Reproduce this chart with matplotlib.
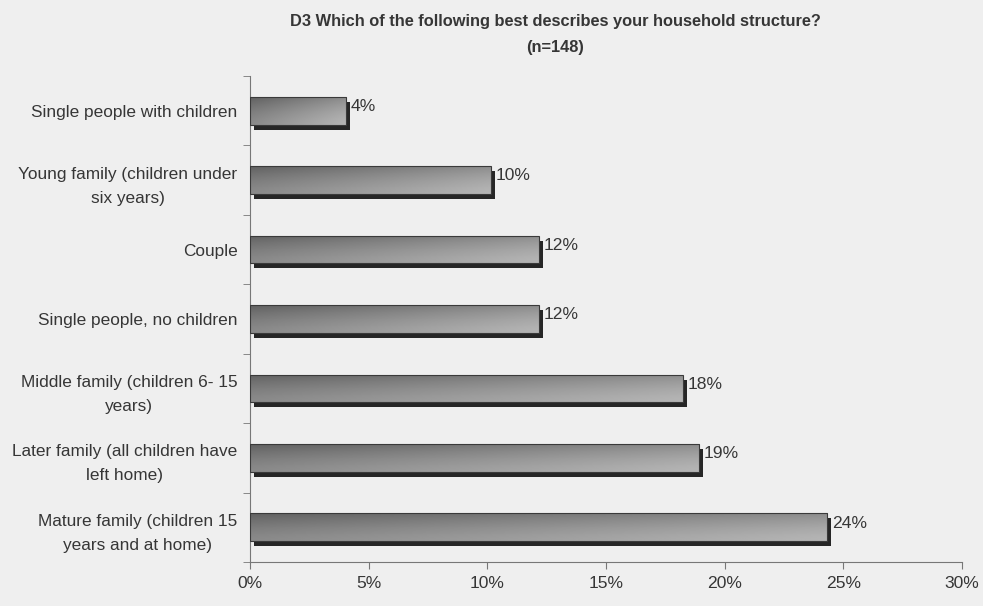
import numpy as np
import matplotlib.pyplot as plt
from matplotlib import transforms
from matplotlib.ticker import PercentFormatter

# D3 household structure, n=148
categories = [
    'Single people with children',
    'Young family (children under\nsix years)',
    'Couple',
    'Single people, no children',
    'Middle family (children 6- 15\nyears)',
    'Later family (all children have\nleft home)',
    'Mature family (children 15\nyears and at home)',
]
counts = [6, 15, 18, 18, 27, 28, 36]
n_total = 148
shares = [c / n_total * 100 for c in counts]
xticks = [0, 5, 10, 15, 20, 25, 30]

plt.rcParams['font.family'] = ['Liberation Sans', 'DejaVu Sans']
txt = '#363636'
bg = '#efefef'

fig = plt.figure(figsize=(9.83, 6.06), dpi=100, facecolor=bg)
ax = fig.add_axes([0.2543, 0.0726, 0.7243, 0.802])
ax.set_facecolor(bg)

ypos = np.arange(len(categories))
h = 0.40

# dark drop shadow, shifted a few pixels right/down
shadow_tr = transforms.offset_copy(ax.transData, fig=fig, x=4, y=-5, units='dots')
ax.barh(ypos, shares, height=h, color='#262626', transform=shadow_tr, zorder=2)

bars = ax.barh(ypos, shares, height=h, color='none', edgecolor='#3a3a3a', linewidth=0.8, zorder=4)

# shaded fill inside each bar: darker at the top and to the left
gx = np.linspace(0, 1, 256)
gy = np.linspace(0, 1, 32)  # 0 = bottom, 1 = top
grad = 0.54 + 0.17 * gx[None, :] - 0.16 * gy[:, None] ** 1.5
for bar, v, y in zip(bars, shares, ypos):
    im = ax.imshow(grad, extent=[0, v, y + h / 2, y - h / 2], aspect='auto',
                   cmap='gray', vmin=0, vmax=1, zorder=3, origin='lower')
    im.set_clip_path(bar)
    ax.text(v + 0.2, y - 0.06, f'{v:.0f}%', va='center', ha='left', fontsize=12.6, color=txt)

ax.set_xlim(0, 30)
ax.set_ylim(len(categories) - 0.5, -0.5)
ax.set_xticks(xticks)
ax.xaxis.set_major_formatter(PercentFormatter(decimals=0))
ax.set_yticks(ypos)
ax.set_yticklabels(categories, multialignment='center', linespacing=1.75)
ax.set_yticks(np.arange(-0.5, len(categories), 1), minor=True)
ax.tick_params(axis='y', which='major', length=0, pad=9, labelsize=12.4, labelcolor=txt)
ax.tick_params(axis='y', which='minor', length=5, color='#777777')
ax.tick_params(axis='x', length=5, color='#777777', labelsize=12.6, labelcolor=txt, pad=5)

for s in ('top', 'right'):
    ax.spines[s].set_visible(False)
for s in ('left', 'bottom'):
    ax.spines[s].set_color('#777777')

fig.text(0.565, 0.977, 'D3 Which of the following best describes your household structure?\n(n=148)',
         ha='center', va='top', fontsize=11.8, fontweight='bold', color=txt, linespacing=1.95)

fig.savefig('out.png', dpi=100, facecolor=bg)
